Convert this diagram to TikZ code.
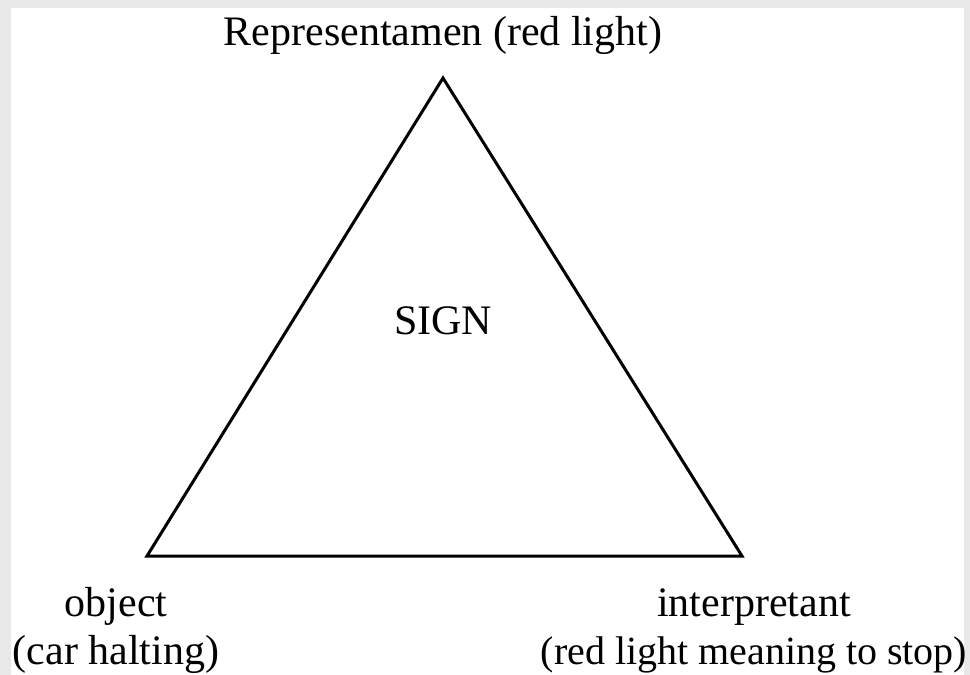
\documentclass[tikz,border=0pt]{standalone}
\usepackage{fontspec}
\setmainfont{Liberation Serif}

\begin{document}
\begin{tikzpicture}[x=0.5pt, y=-0.5pt,
    label/.style={font=\fontsize{21}{24}\selectfont, inner sep=0pt, anchor=base, align=center},
    edge/.style={line width=1.5pt, line join=miter}]
  % page frame: grey margin, white sheet
  \fill[black!9] (0,0) rectangle (970,675);
  \fill[white] (11,8) rectangle (964,675);
  \useasboundingbox (0,0) rectangle (970,675);

  % corners of the triangle
  \coordinate (apex)   at (443,78);
  \coordinate (objc)   at (147,556);
  \coordinate (interc) at (742,556);

  % the sign triangle
  \draw[edge] (apex) -- (objc) -- (interc) -- cycle;

  % labels (base = last line)
  \node[label] (rep)    at (443,45)  {Representamen (red light)};
  \node[label] (sign)   at (443,334) {SIGN};
  \node[label] (obj)    at (116,664) {object\\(car halting)};
  \node[label] (interp) at (754,664) {interpretant\\{\fontsize{20}{24}\selectfont(red light meaning to stop)}};
\end{tikzpicture}
\end{document}
